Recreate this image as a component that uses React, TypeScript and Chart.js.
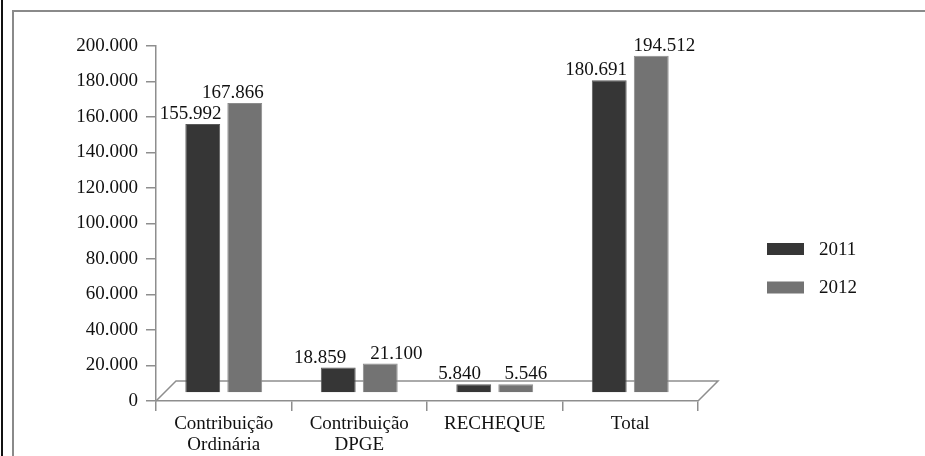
import React, { useEffect, useRef } from "react";
import { Chart, registerables } from "chart.js";

Chart.register(...registerables);

// ---- data ----
const categories: (string | string[])[] = [
  ["Contribuição", "Ordinária"],
  ["Contribuição", "DPGE"],
  "RECHEQUE",
  "Total",
];
const seriesNames = ["2011", "2012"];
const values2011 = [155992, 18859, 5840, 180691];
const values2012 = [167866, 21100, 5546, 194512];
const yMin = 0;
const yMax = 200000;
const yStep = 20000;

// ---- style ----
const FONT = "'Liberation Serif', 'Times New Roman', serif";
const FS = 19;
const TEXT = "#111111";
const AXIS = "#8e8e8e";
const barColors = ["#363636", "#737373"];
const barBorders = ["#5a5a5a", "#8c8c8c"];
const floorBase = 5000; // visual depth of the 3D floor, in value units
const labelShift = [
  [-12, -18, -14, -13],
  [-12, 16, 10, 13],
];

function fmt(n: number): string {
  return String(Math.round(n)).replace(/\B(?=(\d{3})+(?!\d))/g, ".");
}

const floorPlugin = {
  id: "floor3d",
  beforeDatasetsDraw(chart: any) {
    const { ctx, chartArea, scales } = chart;
    const y0 = scales.y.getPixelForValue(0);
    const dx = 20;
    const dy = 20;
    ctx.save();
    ctx.strokeStyle = AXIS;
    ctx.lineWidth = 1.5;
    ctx.beginPath();
    ctx.moveTo(chartArea.left, y0);
    ctx.lineTo(chartArea.left + dx, y0 - dy);
    ctx.lineTo(chartArea.right + dx, y0 - dy);
    ctx.lineTo(chartArea.right, y0);
    ctx.stroke();
    ctx.restore();
  },
};

const valueLabelPlugin = {
  id: "valueLabels",
  afterDatasetsDraw(chart: any) {
    const { ctx } = chart;
    ctx.save();
    ctx.font = `${FS}px ${FONT}`;
    ctx.fillStyle = TEXT;
    ctx.textAlign = "center";
    ctx.textBaseline = "alphabetic";
    chart.data.datasets.forEach((ds: any, di: number) => {
      const meta = chart.getDatasetMeta(di);
      meta.data.forEach((el: any, i: number) => {
        const v = ds.data[i] as number;
        ctx.fillText(fmt(v), el.x + labelShift[di][i], el.y - 5);
      });
    });
    ctx.restore();
  },
};

const legendPlugin = {
  id: "sideLegend",
  afterDraw(chart: any) {
    const { ctx, chartArea } = chart;
    const x = chartArea.right + 69;
    const yStart = 249;
    const gap = 38.5;
    ctx.save();
    ctx.font = `${FS}px ${FONT}`;
    ctx.textAlign = "left";
    ctx.textBaseline = "middle";
    chart.data.datasets.forEach((ds: any, di: number) => {
      const cy = yStart + di * gap;
      ctx.fillStyle = ds.backgroundColor;
      ctx.fillRect(x, cy - 6, 37, 12);
      ctx.fillStyle = TEXT;
      ctx.fillText(ds.label, x + 52, cy + 1);
    });
    ctx.restore();
  },
};

export default function App() {
  const canvasRef = useRef<HTMLCanvasElement | null>(null);

  useEffect(() => {
    document.body.style.margin = "0";
    const canvas = canvasRef.current;
    if (!canvas) return;
    const chart = new Chart(canvas, {
      type: "bar",
      data: {
        labels: categories,
        datasets: [
          {
            label: seriesNames[0],
            data: values2011,
            backgroundColor: barColors[0],
            borderColor: barBorders[0],
            borderWidth: 1,
            base: floorBase,
            minBarLength: 8,
            categoryPercentage: 0.62,
            barPercentage: 0.83,
          },
          {
            label: seriesNames[1],
            data: values2012,
            backgroundColor: barColors[1],
            borderColor: barBorders[1],
            borderWidth: 1,
            base: floorBase,
            minBarLength: 8,
            categoryPercentage: 0.62,
            barPercentage: 0.83,
          },
        ],
      },
      options: {
        responsive: false,
        animation: false,
        devicePixelRatio: 1,
        layout: { padding: { left: 0, top: 46, right: 227, bottom: 0 } },
        plugins: {
          legend: { display: false },
          tooltip: { enabled: false },
          title: { display: false },
        },
        scales: {
          x: {
            afterFit: (s: any) => {
              s.height = 55;
            },
            grid: {
              offset: true,
              drawOnChartArea: false,
              drawTicks: true,
              tickLength: 10,
              color: AXIS,
              lineWidth: 1.5,
            },
            border: { display: true, color: AXIS, width: 1.5 },
            ticks: {
              color: TEXT,
              font: { family: FONT, size: FS, lineHeight: 1.12 },
              padding: 2,
              maxRotation: 0,
              autoSkip: false,
            },
          },
          y: {
            min: yMin,
            max: yMax,
            afterFit: (s: any) => {
              s.width = 156;
            },
            grid: {
              drawOnChartArea: false,
              drawTicks: true,
              tickLength: 10,
              color: AXIS,
              lineWidth: 1.5,
            },
            border: { display: true, color: AXIS, width: 1.5 },
            ticks: {
              stepSize: yStep,
              color: TEXT,
              font: { family: FONT, size: FS },
              padding: 8,
              callback: (v: any) => fmt(Number(v)),
            },
          },
        },
      },
      plugins: [floorPlugin, valueLabelPlugin, legendPlugin],
    });
    return () => chart.destroy();
  }, []);

  return (
    <div style={{ position: "relative", width: 925, height: 456, background: "#fff", overflow: "hidden" }}>
      <div style={{ position: "absolute", left: 1, top: 0, width: 2, height: 456, background: "#111" }} />
      <div style={{ position: "absolute", left: 12, top: 10, width: 913, height: 1.5, background: "#8a8a8a" }} />
      <div style={{ position: "absolute", left: 12, top: 10, width: 1.5, height: 446, background: "#8a8a8a" }} />
      <canvas
        ref={canvasRef}
        width={925}
        height={456}
        style={{ position: "absolute", left: 0, top: 0, width: 925, height: 456, display: "block" }}
      />
    </div>
  );
}
